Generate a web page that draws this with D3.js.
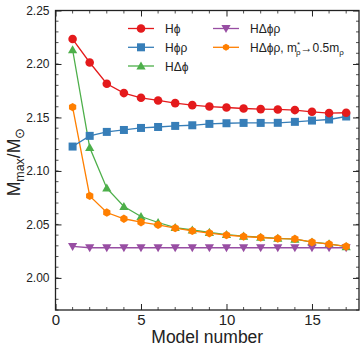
<!DOCTYPE html>
<html>
<head>
<meta charset="utf-8">
<script src="https://cdn.jsdelivr.net/npm/d3@7"></script>
<style>
  body { margin: 0; background: #fff; }
  svg text { font-family: "Liberation Sans", Arial, sans-serif; fill: #222; }
</style>
</head>
<body>
<div id="chart"></div>
<script>
var models = [1, 2, 3, 4, 5, 6, 7, 8, 9, 10, 11, 12, 13, 14, 15, 16, 17];

var hPhi = [2.2233, 2.2014, 2.1815, 2.1728, 2.1684, 2.1659, 2.1634, 2.1615, 2.1602,
    2.1593, 2.1584, 2.1578, 2.1575, 2.1569, 2.1553, 2.1541, 2.1544];
var hPhiRho = [2.1228, 2.1328, 2.1365, 2.1383, 2.1402, 2.1411, 2.1421, 2.1427, 2.1440,
    2.1446, 2.1449, 2.1449, 2.1450, 2.1459, 2.1471, 2.1481, 2.1509];
var hDeltaPhi = [2.2133, 2.1219, 2.0839, 2.0667, 2.0574, 2.0518, 2.0471, 2.0448, 2.0425,
    2.0405, 2.0390, 2.0380, 2.0370, 2.0362, 2.0335, 2.0318, 2.0292];
var hDeltaPhiRho = [2.0294, 2.0282, 2.0282, 2.0282, 2.0282, 2.0282, 2.0282, 2.0282, 2.0282,
    2.0282, 2.0282, 2.0282, 2.0282, 2.0282, 2.0282, 2.0282, 2.0282];
var hDeltaPhiRhoHalf = [2.1597, 2.0767, 2.0611, 2.0553, 2.0521, 2.0496, 2.0465, 2.0440, 2.0418,
    2.0400, 2.0387, 2.0378, 2.0368, 2.0365, 2.0334, 2.0316, 2.0294];

var xTicks = [0, 5, 10, 15];
var yTicks = [2.00, 2.05, 2.10, 2.15, 2.20, 2.25];

var series = [
    { name: 'hDeltaPhi', values: hDeltaPhi, color: '#4daf4a', marker: 'triangle' },
    { name: 'hDeltaPhiRho', values: hDeltaPhiRho, color: '#984ea3', marker: 'down' },
    { name: 'hDeltaPhiRhoHalf', values: hDeltaPhiRhoHalf, color: '#ff7f00', marker: 'hex' },
    { name: 'hPhiRho', values: hPhiRho, color: '#377eb8', marker: 'square' },
    { name: 'hPhi', values: hPhi, color: '#e41a1c', marker: 'circle' }
];

var width = 361, height = 347;
var margin = { top: 10.5, right: 2, bottom: 37, left: 55.5 };

var svg = d3.select('#chart')
    .append('svg')
    .attr('width', width)
    .attr('height', height);

var x = d3.scaleLinear().domain([0, 17.75]).range([margin.left, width - margin.right]);
var y = d3.scaleLinear().domain([1.97, 2.25]).range([height - margin.bottom, margin.top]);

// marker shapes
function drawMarker(g, type, color, cx, cy, s) {
    s = s || 1;
    if (type === 'circle') {
        g.append('circle').attr('cx', cx).attr('cy', cy).attr('r', 4.3 * s).attr('fill', color);
    } else if (type === 'square') {
        g.append('rect').attr('x', cx - 4 * s).attr('y', cy - 4 * s)
            .attr('width', 8 * s).attr('height', 8 * s).attr('fill', color);
    } else if (type === 'triangle') {
        var r = 4.6 * s;
        g.append('path').attr('fill', color)
            .attr('d', 'M' + cx + ',' + (cy - r) + 'L' + (cx + r) + ',' + (cy + r * 0.75) +
                'L' + (cx - r) + ',' + (cy + r * 0.75) + 'Z');
    } else if (type === 'down') {
        var r2 = 4.6 * s;
        g.append('path').attr('fill', color)
            .attr('d', 'M' + cx + ',' + (cy + r2) + 'L' + (cx + r2) + ',' + (cy - r2 * 0.75) +
                'L' + (cx - r2) + ',' + (cy - r2 * 0.75) + 'Z');
    } else if (type === 'hex') {
        var r3 = 4.2 * s;
        var pts = d3.range(6).map(function (i) {
            var a = Math.PI / 6 + i * Math.PI / 3;
            return [cx + r3 * Math.cos(a), cy + r3 * Math.sin(a)];
        });
        g.append('path').attr('fill', color).attr('d', 'M' + pts.join('L') + 'Z');
    }
}

var line = d3.line()
    .x(function (d, i) { return x(models[i]); })
    .y(function (d) { return y(d); });

var plot = svg.append('g');

series.forEach(function (s) {
    plot.append('path')
        .datum(s.values)
        .attr('d', line)
        .attr('fill', 'none')
        .attr('stroke', s.color)
        .attr('stroke-width', 1.3);
    var mg = plot.append('g');
    s.values.forEach(function (v, i) {
        drawMarker(mg, s.marker, s.color, x(models[i]), y(v));
    });
});

// axes (ticks inside)
var inner = height - margin.bottom;
var xMinor = d3.range(0, 18, 1);
var yMinor = d3.range(1.97, 2.2501, 0.01);

var axes = svg.append('g').attr('stroke', '#222').attr('fill', 'none');
axes.append('rect')
    .attr('x', margin.left).attr('y', margin.top)
    .attr('width', width - margin.right - margin.left)
    .attr('height', inner - margin.top)
    .attr('stroke-width', 1.3);

var ax = svg.append('g').attr('transform', 'translate(0,' + inner + ')')
    .call(d3.axisBottom(x).tickValues(xTicks).tickSizeInner(-6).tickSizeOuter(0)
        .tickFormat(d3.format('d')).tickPadding(4.5));
ax.select('.domain').remove();
ax.selectAll('text').attr('font-size', 15).attr('fill', '#222');

var axTop = svg.append('g').attr('transform', 'translate(0,' + margin.top + ')')
    .call(d3.axisTop(x).tickValues(xTicks).tickSizeInner(-6).tickSizeOuter(0).tickFormat(''));
axTop.select('.domain').remove();

var ay = svg.append('g').attr('transform', 'translate(' + margin.left + ',0)')
    .call(d3.axisLeft(y).tickValues(yTicks).tickSizeInner(-6).tickSizeOuter(0)
        .tickFormat(d3.format('.2f')).tickPadding(6));
ay.select('.domain').remove();
ay.selectAll('text').attr('font-size', 12).attr('fill', '#222');

var ayR = svg.append('g').attr('transform', 'translate(' + (width - margin.right) + ',0)')
    .call(d3.axisRight(y).tickValues(yTicks).tickSizeInner(-6).tickSizeOuter(0).tickFormat(''));
ayR.select('.domain').remove();

[ax, axTop, ay, ayR].forEach(function (g) {
    g.selectAll('line').attr('stroke', '#222').attr('stroke-width', 1);
});

var minor = svg.append('g').attr('stroke', '#222').attr('stroke-width', 0.8);
xMinor.forEach(function (v) {
    if (xTicks.indexOf(v) >= 0) return;
    minor.append('line').attr('x1', x(v)).attr('x2', x(v)).attr('y1', inner).attr('y2', inner - 3);
    minor.append('line').attr('x1', x(v)).attr('x2', x(v)).attr('y1', margin.top).attr('y2', margin.top + 3);
});
yMinor.forEach(function (v) {
    var yy = y(v);
    minor.append('line').attr('x1', margin.left).attr('x2', margin.left + 3).attr('y1', yy).attr('y2', yy);
    minor.append('line').attr('x1', width - margin.right).attr('x2', width - margin.right - 3).attr('y1', yy).attr('y2', yy);
});

// axis labels
svg.append('text')
    .attr('x', (margin.left + width - margin.right) / 2)
    .attr('y', 343.4)
    .attr('text-anchor', 'middle')
    .attr('font-size', 17.5)
    .text('Model number');

var yl = svg.append('text')
    .attr('transform', 'translate(20,162) rotate(-90)')
    .attr('text-anchor', 'middle')
    .attr('font-size', 17.5);
yl.append('tspan').text('M');
yl.append('tspan').attr('font-size', 12.5).attr('dy', 4).text('max');
yl.append('tspan').attr('dy', -4).text('/M');
yl.append('tspan').attr('font-size', 12.5).attr('dy', 4).text('\u2299');

// legend
var legendItems = [
    { label: 'H\u03d5', color: '#e41a1c', marker: 'circle', col: 0, row: 0 },
    { label: 'H\u03d5\u03c1', color: '#377eb8', marker: 'square', col: 0, row: 1 },
    { label: 'H\u0394\u03d5', color: '#4daf4a', marker: 'triangle', col: 0, row: 2 },
    { label: 'H\u0394\u03d5\u03c1', color: '#984ea3', marker: 'down', col: 1, row: 0 },
    { label: 'H\u0394\u03d5\u03c1, m', color: '#ff7f00', marker: 'hex', col: 1, row: 1, extra: true }
];
var colX = [128, 213];
var rowY = [28.5, 47.3, 66];

var legend = svg.append('g');
legendItems.forEach(function (d) {
    var lx = colX[d.col], ly = rowY[d.row];
    legend.append('line').attr('x1', lx).attr('x2', lx + 26).attr('y1', ly).attr('y2', ly)
        .attr('stroke', d.color).attr('stroke-width', 1.3);
    drawMarker(legend, d.marker, d.color, lx + 13, ly, d.marker === 'hex' ? 0.85 : 1);
    var t = legend.append('text').attr('x', lx + 37).attr('y', ly + 4.5).attr('font-size', 12);
    t.append('tspan').text(d.label);
    if (d.extra) {
        t.append('tspan').attr('font-size', 8).attr('dy', -5).attr('dx', 0).text('*');
        t.append('tspan').attr('font-size', 8).attr('dy', 8).attr('dx', -4).text('\u03c1');
        t.append('tspan').attr('dy', -3).text('\u2192');
        t.append('tspan').text('0.5m');
        t.append('tspan').attr('font-size', 8).attr('dy', 3).text('\u03c1');
    }
});
</script>
</body>
</html>
